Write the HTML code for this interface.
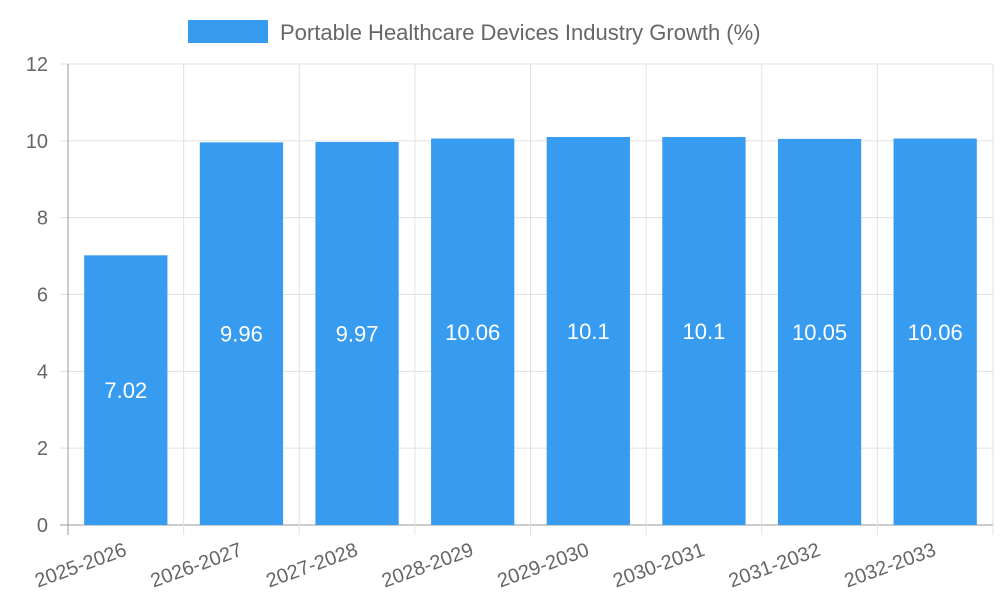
<!DOCTYPE html>
<html><head><meta charset="utf-8"><style>
body{margin:0;background:#fff;}
svg{display:block;font-family:"Liberation Sans",sans-serif;}
</style></head><body>
<svg id="chart" width="1000" height="600" viewBox="0 0 1000 600">
<g>
<rect x="188" y="20" width="80" height="23" fill="#379bf0"/>
<text x="280" y="40" font-size="22" fill="#666">Portable Healthcare Devices Industry Growth (%)</text>
</g>
<g id="grid"></g>
<g id="bars"></g>
<g id="axes"></g>
</svg>
<script>
const categories=["2025-2026","2026-2027","2027-2028","2028-2029","2029-2030","2030-2031","2031-2032","2032-2033"];
const values=[7.02,9.96,9.97,10.06,10.1,10.1,10.05,10.06];
const yTicks=[0,2,4,6,8,10,12];
const NS="http://www.w3.org/2000/svg";
const L=68,R=993,T=64,B=525,yMax=12;
const y=v=>B-(v/yMax)*(B-T);
const bw=(R-L)/categories.length;
const xc=i=>L+bw*(i+0.5);
function mk(tag,attrs,parent){const e=document.createElementNS(NS,tag);for(const k in attrs)e.setAttribute(k,attrs[k]);parent.appendChild(e);return e;}
const grid=document.getElementById('grid'),bars=document.getElementById('bars'),axes=document.getElementById('axes');
yTicks.forEach(t=>{
  const l=mk('line',{x1:L-8,x2:R,y1:y(t),y2:y(t),stroke:t===0?'#999':'#e0e0e0','stroke-width':1},grid);
  
  
  const tx=mk('text',{x:L-20,y:y(t)+7,'text-anchor':'end','font-size':20,fill:'#666'},axes);
  tx.textContent=t;
  
  
});
for(let i=0;i<=categories.length;i++){
  const x=L+bw*i;
  const l=mk('line',{x1:x,x2:x,y1:T,y2:B+10,stroke:i===0?'#999':'#e0e0e0','stroke-width':1},grid);
  
  
}
categories.forEach((c,i)=>{
  const w=bw*0.72;
  const r=mk('rect',{x:xc(i)-w/2,y:y(values[i]),width:w,height:B-y(values[i]),fill:'#379bf0'},bars);
  
  
  const vt=mk('text',{x:xc(i),y:(y(values[i])+B)/2+8,'text-anchor':'middle','font-size':22,fill:'#fff'},bars);
  vt.textContent=values[i];
  
  
  const tx=mk('text',{x:xc(i)+2,y:B+30,'text-anchor':'end','font-size':20,fill:'#666',transform:`rotate(-20 ${xc(i)+2} ${B+30})`},axes);
  tx.textContent=c;
  
  
});
</script>
</body></html>
